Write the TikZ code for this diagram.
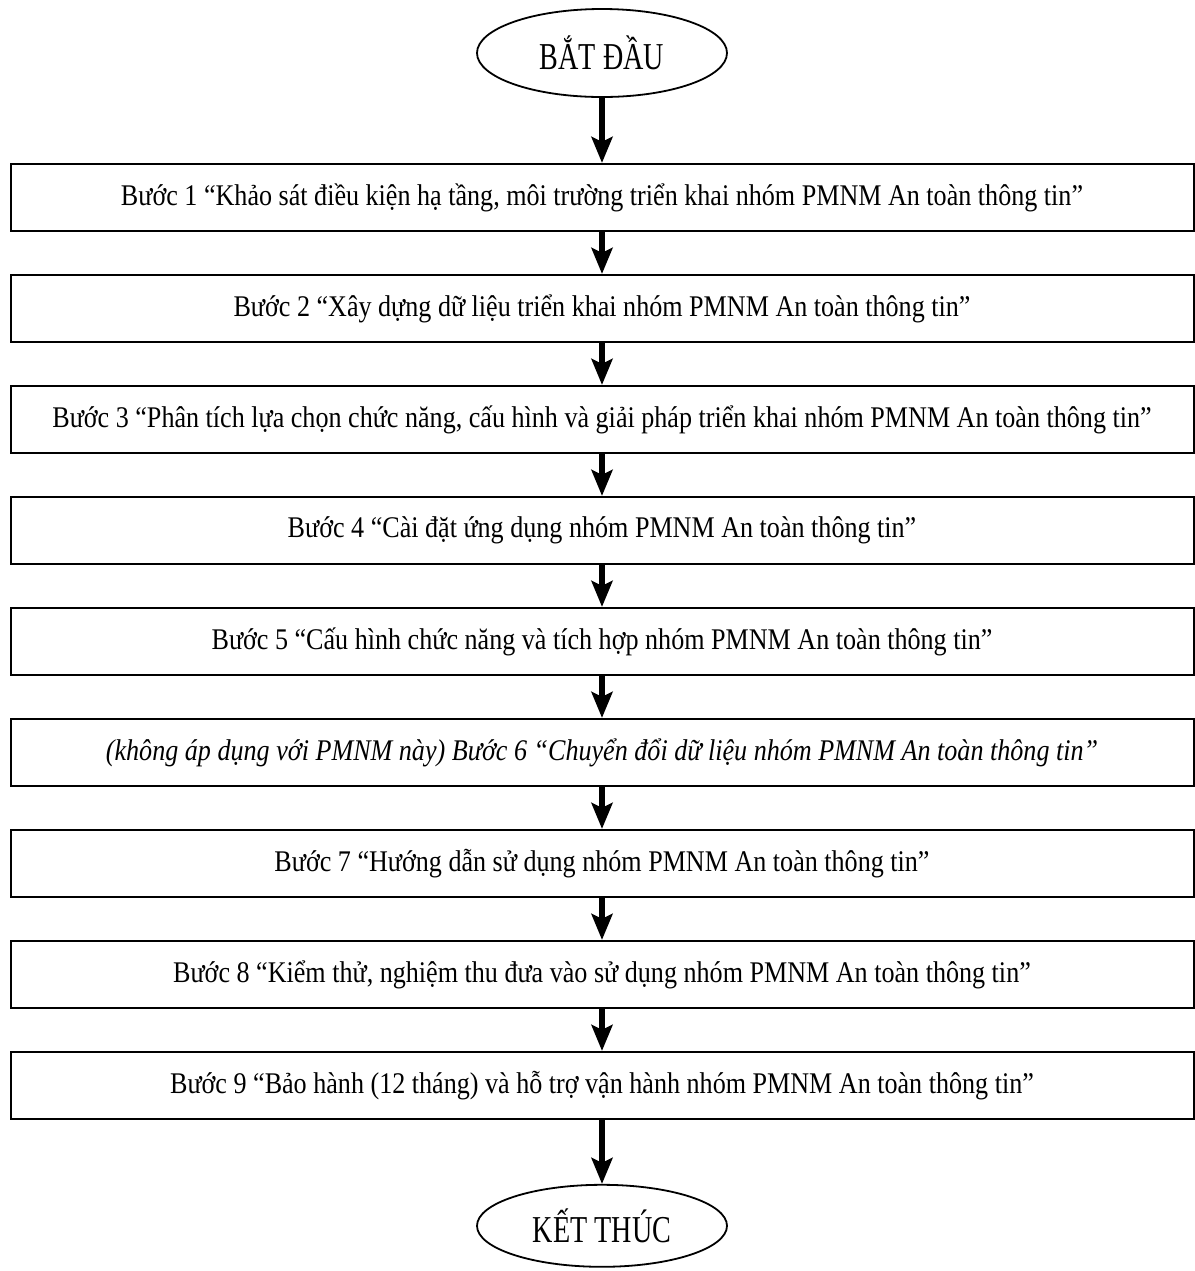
\documentclass[tikz,border=0pt]{standalone}
\usepackage{fontspec}
\setmainfont[FakeStretch=0.87]{Liberation Serif}
\newfontfamily\termfont[FakeStretch=0.74]{Liberation Serif}
\usetikzlibrary{shapes.geometric, arrows.meta, positioning}

\begin{document}
\begin{tikzpicture}[
    node distance=21pt,
    terminal/.style={ellipse, draw, line width=0.9pt, minimum width=125pt,
        minimum height=44pt, inner sep=0pt, font=\termfont\fontsize{19}{22}\selectfont},
    stepbox/.style={rectangle, draw, line width=1pt, minimum width=591.5pt,
        minimum height=33.5pt, inner sep=0pt, font=\fontsize{15}{18}\selectfont},
    arrow/.style={line width=2.6pt,-{Stealth[length=13pt,width=10.5pt,inset=2.5pt]}}
]
    \useasboundingbox (0,0) rectangle (597.5pt,-635.5pt);

    % Start
    \node[terminal] (start) at (301pt,-26.5pt) {BẮT ĐẦU};

    % Steps
    \node[stepbox, below=32.5pt of start] (b1) {Bước 1 “Khảo sát điều kiện hạ tầng, môi trường triển khai nhóm PMNM An toàn thông tin”};
    \node[stepbox, below=of b1] (b2) {Bước 2 “Xây dựng dữ liệu triển khai nhóm PMNM An toàn thông tin”};
    \node[stepbox, below=of b2] (b3) {Bước 3 “Phân tích lựa chọn chức năng, cấu hình và giải pháp triển khai nhóm PMNM An toàn thông tin”};
    \node[stepbox, below=of b3] (b4) {Bước 4 “Cài đặt ứng dụng nhóm PMNM An toàn thông tin”};
    \node[stepbox, below=of b4] (b5) {Bước 5 “Cấu hình chức năng và tích hợp nhóm PMNM An toàn thông tin”};
    \node[stepbox, below=of b5] (b6) {\itshape (không áp dụng với PMNM này) Bước 6 “Chuyển đổi dữ liệu nhóm PMNM An toàn thông tin”};
    \node[stepbox, below=of b6] (b7) {Bước 7 “Hướng dẫn sử dụng nhóm PMNM An toàn thông tin”};
    \node[stepbox, below=of b7] (b8) {Bước 8 “Kiểm thử, nghiệm thu đưa vào sử dụng nhóm PMNM An toàn thông tin”};
    \node[stepbox, below=of b8] (b9) {Bước 9 “Bảo hành (12 tháng) và hỗ trợ vận hành nhóm PMNM An toàn thông tin”};

    % End
    \node[terminal, minimum height=41pt, below=32pt of b9] (end) {KẾT THÚC};

    % Arrows
    \draw[arrow] (start) -- (b1);
    \draw[arrow] (b1) -- (b2);
    \draw[arrow] (b2) -- (b3);
    \draw[arrow] (b3) -- (b4);
    \draw[arrow] (b4) -- (b5);
    \draw[arrow] (b5) -- (b6);
    \draw[arrow] (b6) -- (b7);
    \draw[arrow] (b7) -- (b8);
    \draw[arrow] (b8) -- (b9);
    \draw[arrow] (b9) -- (end);
\end{tikzpicture}
\end{document}
